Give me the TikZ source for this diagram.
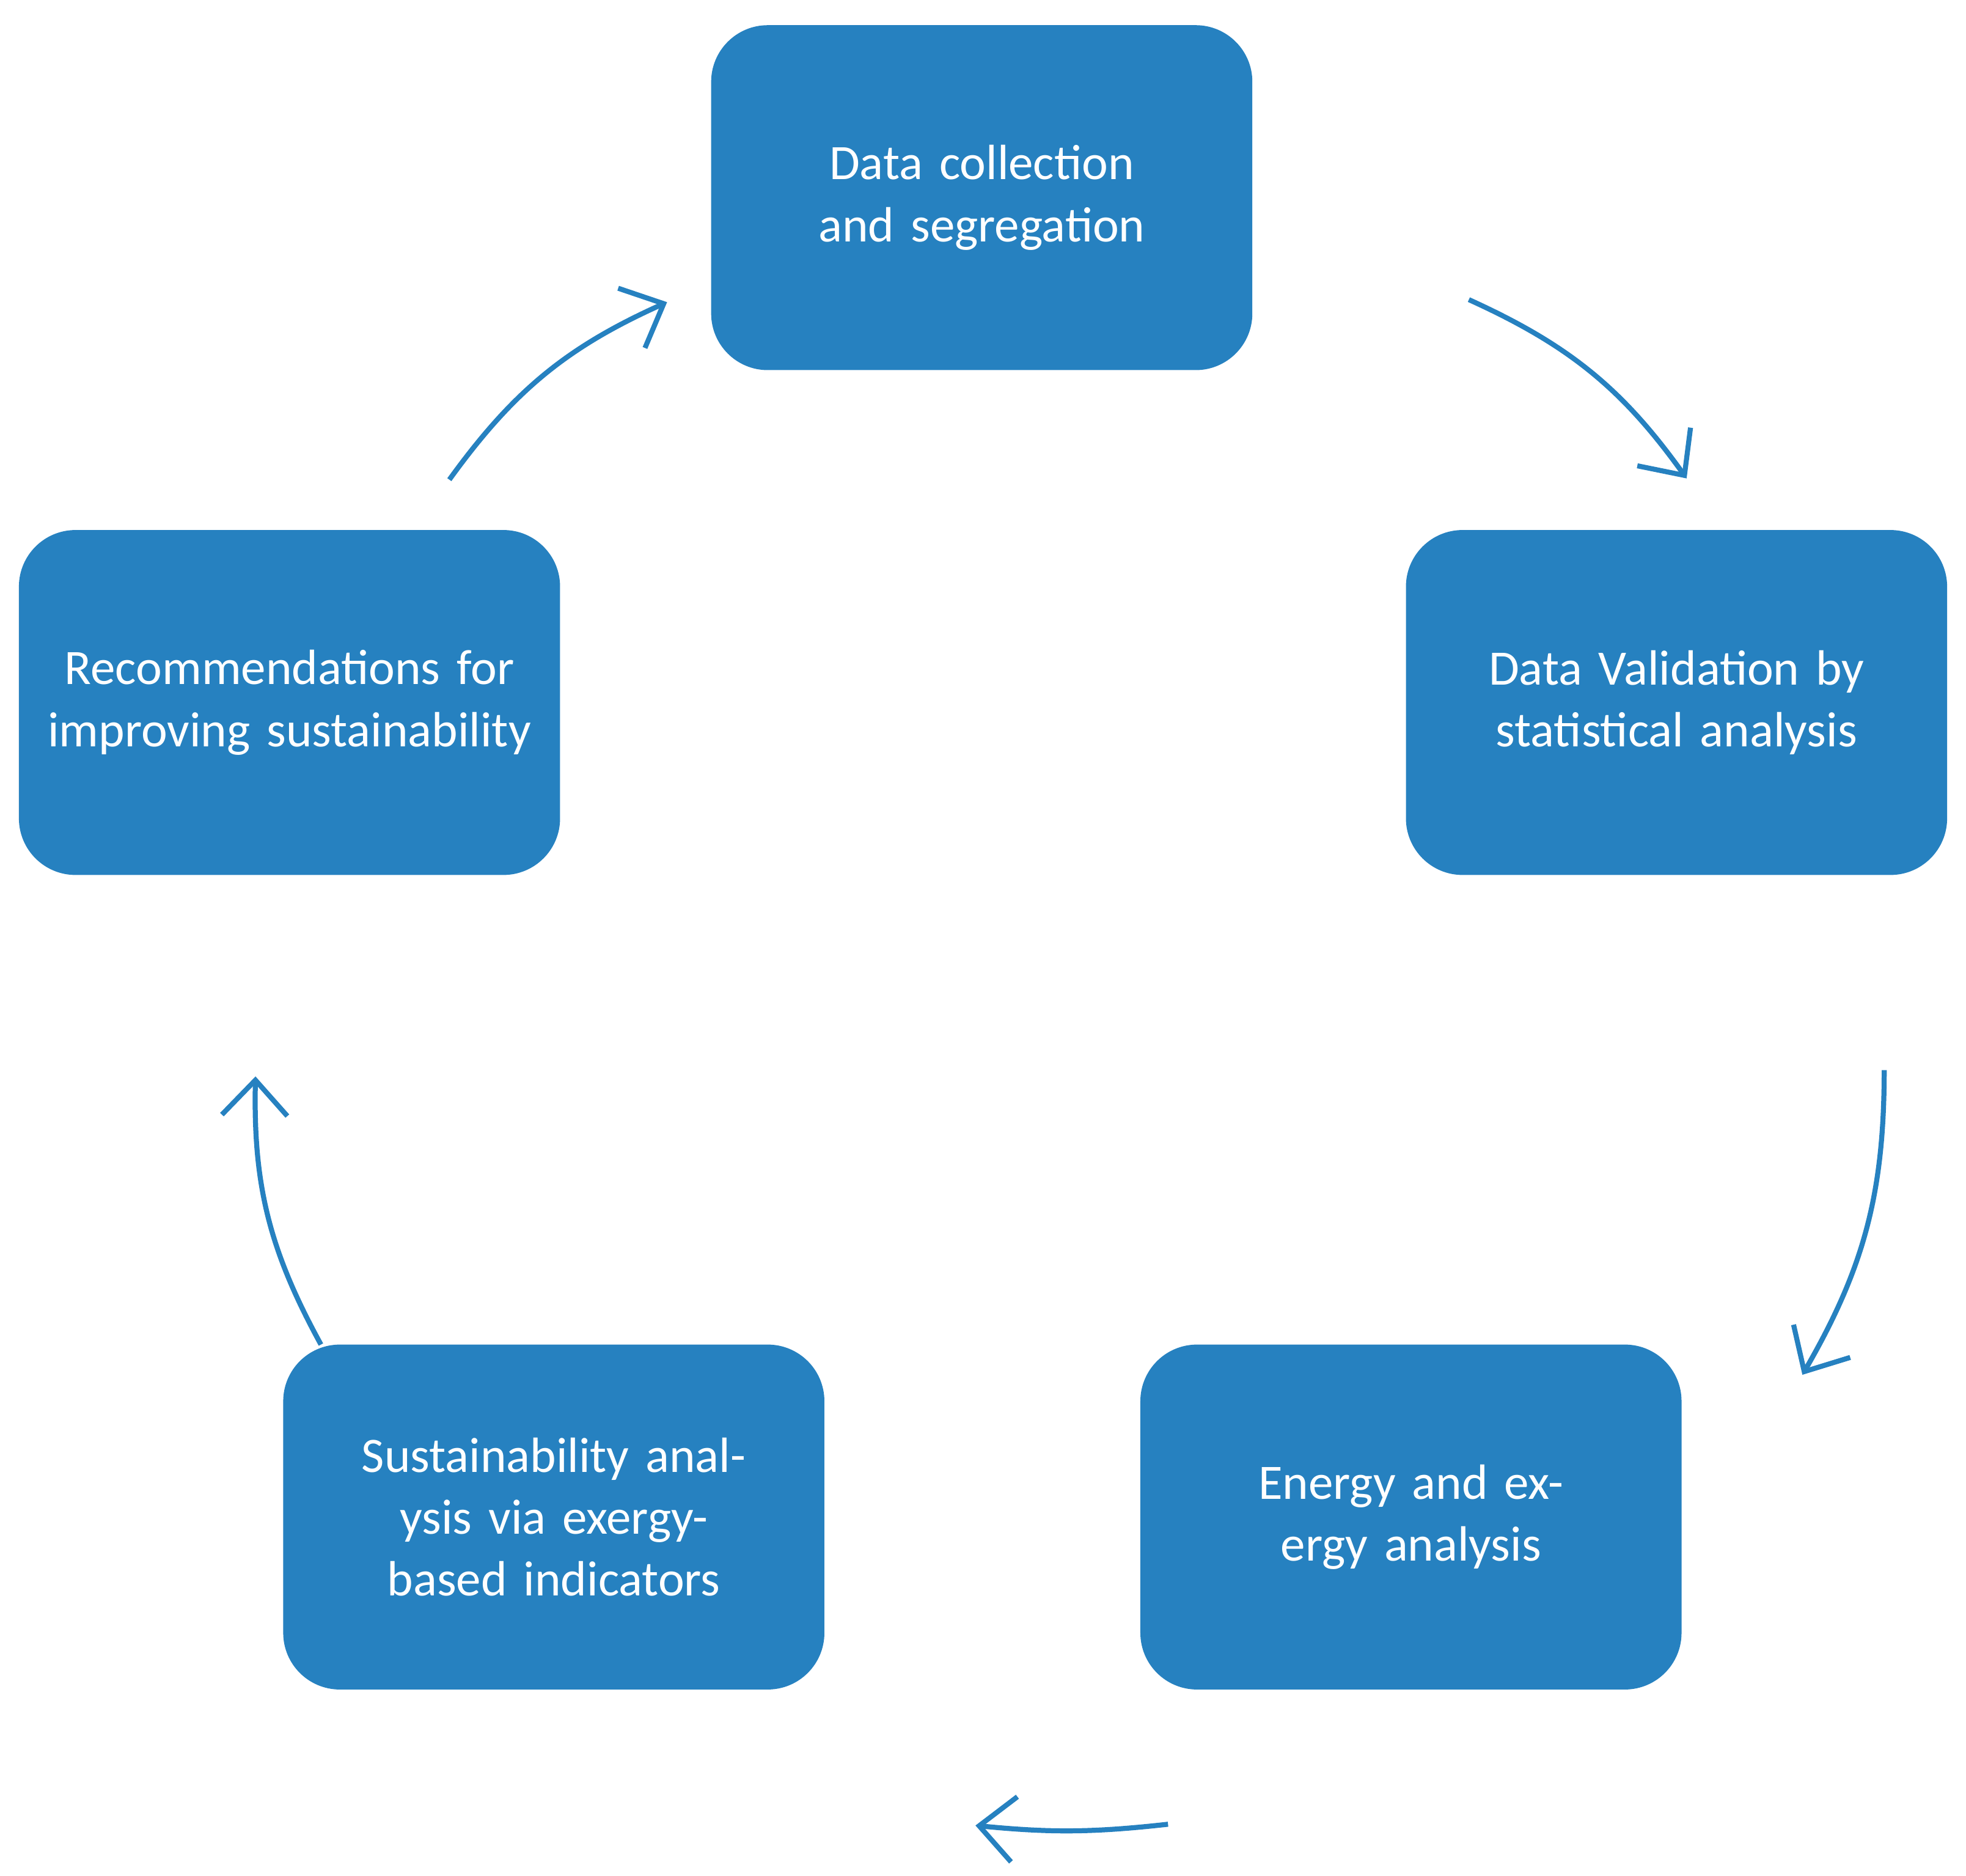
\documentclass[tikz,border=0pt]{standalone}
\usepackage{fontspec}
\setmainfont{Carlito}
\usetikzlibrary{arrows.meta}
\definecolor{boxblue}{HTML}{2681C0}
\begin{document}
\begin{tikzpicture}[x=0.1cm,y=-0.1cm,
  stepbox/.style={fill=boxblue,rounded corners=4.5cm,minimum width=43cm,minimum height=27.4cm,
    text=white,align=center,text width=40cm,font=\fontsize{112}{140}\selectfont,inner sep=0pt},
  flow/.style={draw=boxblue,line width=0.4cm,-{Straight Barb[length=2.8cm,width=5.2cm,line width=0.4cm]},bend left=15}]
\useasboundingbox (0,0) rectangle (1562,1490);
\node[stepbox] (a) at (780,157) {Data collection and segregation\\[0.4em]};
\node[stepbox] (b) at (1332,558) {Data Validation by statistical analysis};
\node[stepbox] (c) at (1121,1205) {Energy and exergy analysis};
\node[stepbox] (d) at (440,1205) {Sustainability analysis via exergy-based indicators};
\node[stepbox] (e) at (230,558) {Recommendations for improving sustainability};
\coordinate (a1) at (1167,238); \coordinate (a2) at (1340,380);
\coordinate (b1) at (1497,850); \coordinate (b2) at (1432,1092);
\coordinate (c1) at (928,1449); \coordinate (c2) at (775,1450);
\coordinate (d1) at (255,1068); \coordinate (d2) at (203,855);
\coordinate (e1) at (357,381); \coordinate (e2) at (530,240);
\draw[flow] (a1) to (a2);
\draw[flow] (b1) to (b2);
\draw[flow,bend left=6] (c1) to (c2);
\draw[flow] (d1) to (d2);
\draw[flow] (e1) to (e2);
\end{tikzpicture}
\end{document}
